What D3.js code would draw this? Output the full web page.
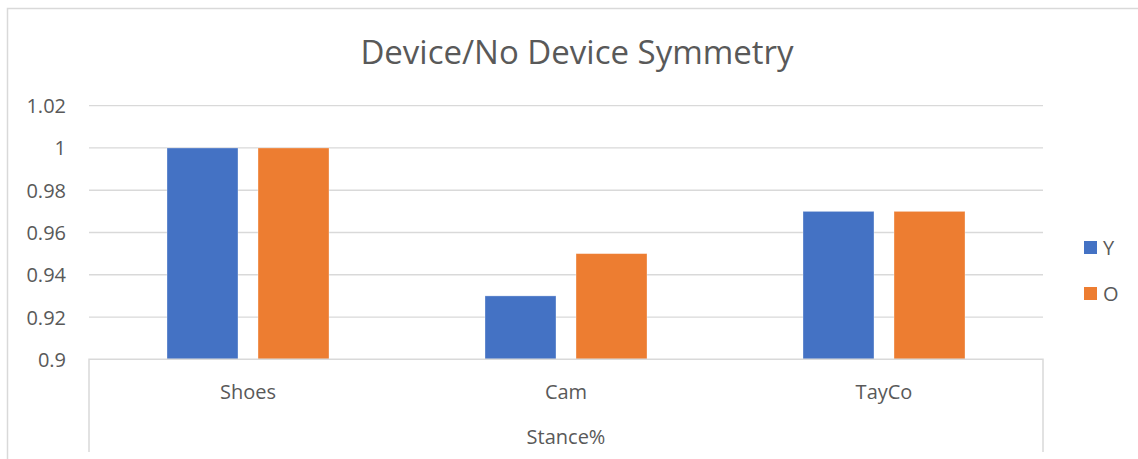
<!DOCTYPE html>
<html><head><meta charset="utf-8">
<script src="https://cdn.jsdelivr.net/npm/d3@7"></script>
<style>body{margin:0;background:#fff;} svg{display:block;font-family:"Open Sans",sans-serif;}</style>
</head><body>
<svg id="c" width="1138" height="459"></svg>
<script>
const categories = ["Shoes", "Cam", "TayCo"];
const seriesNames = ["Y", "O"];
const valuesY = [1.00, 0.93, 0.97];
const valuesO = [1.00, 0.95, 0.97];
const yTicks = [0.9, 0.92, 0.94, 0.96, 0.98, 1, 1.02];
const colors = ["#4472C4", "#ED7D31"];
const title = "Device/No Device Symmetry";
const axisGroupLabel = "Stance%";

(function () {
const svg = d3.select("#c");
const pLeft = 89, pRight = 1043, pTop = 105.7, pBottom = 359.3;

// outer chart border
svg.append("path").attr("d", "M7.5,459 V8.5 H1138").attr("fill","none").attr("stroke","#d9d9d9").attr("stroke-width",1.5);

const y = d3.scaleLinear().domain([0.9, 1.02]).range([pBottom, pTop]);
const x0 = d3.scaleBand().domain(categories).range([pLeft, pRight]).paddingInner(0).paddingOuter(0);
const x1 = d3.scaleBand().domain(seriesNames).range([0, x0.bandwidth()]).paddingInner(0.22).paddingOuter(0.857);

// gridlines
svg.append("g").selectAll("line").data(yTicks.slice(1)).join("line")
  .attr("x1", pLeft).attr("x2", pRight)
  .attr("y1", d => y(d)).attr("y2", d => y(d))
  .attr("stroke", "#d9d9d9").attr("stroke-width", 1.3);

// y tick labels
const yAxis = d3.axisLeft(y).tickValues(yTicks).tickSize(0).tickPadding(0).tickFormat(d => String(+d.toFixed(2)));
const ga = svg.append("g").attr("transform", `translate(66,0)`).call(yAxis);
ga.select(".domain").remove();
ga.selectAll("text").attr("fill", "#595959").style("font-size", "20px").style("font-family", "'Open Sans',sans-serif").attr("dy", "0.35em");

// bars
const series = [valuesY, valuesO];
categories.forEach((c, i) => {
  seriesNames.forEach((s, j) => {
    const v = series[j][i];
    svg.append("rect")
      .attr("x", x0(c) + x1(s))
      .attr("y", y(v))
      .attr("width", x1.bandwidth())
      .attr("height", y(0.9) - y(v))
      .attr("fill", colors[j])
      .attr("stroke", "#fff").attr("stroke-opacity", 0.4).attr("stroke-width", 0.8);
  });
});

// category axis box
svg.append("path")
  .attr("d", `M${pLeft},452 V${pBottom} H${pRight} V452`)
  .attr("fill", "none").attr("stroke", "#d9d9d9").attr("stroke-width", 1.5);

// category labels
svg.append("g").selectAll("text").data(categories).join("text")
  .attr("x", d => x0(d) + x0.bandwidth() / 2).attr("y", 392)
  .attr("text-anchor", "middle").attr("dy", "0.35em")
  .attr("fill", "#595959").style("font-size", "20px").text(d => d);

svg.append("text").attr("x", (pLeft + pRight) / 2).attr("y", 437).attr("dy", "0.35em")
  .attr("text-anchor", "middle").attr("fill", "#595959").style("font-size", "20px").text(axisGroupLabel);

// title
svg.append("text").attr("x", 577).attr("y", 52).attr("dy", "0.35em")
  .attr("text-anchor", "middle").attr("fill", "#595959").style("font-size", "33px").text(title);

// legend
const lg = svg.append("g").selectAll("g").data(seriesNames).join("g")
  .attr("transform", (d, i) => `translate(1084,${241 + i * 46})`);
lg.append("rect").attr("width", 13).attr("height", 13).attr("fill", (d, i) => colors[i]);
lg.append("text").attr("x", 19).attr("y", 6.5).attr("dy", "0.35em").attr("fill", "#595959")
  .style("font-size", "20px").text(d => d);
})();
</script>
</body></html>
